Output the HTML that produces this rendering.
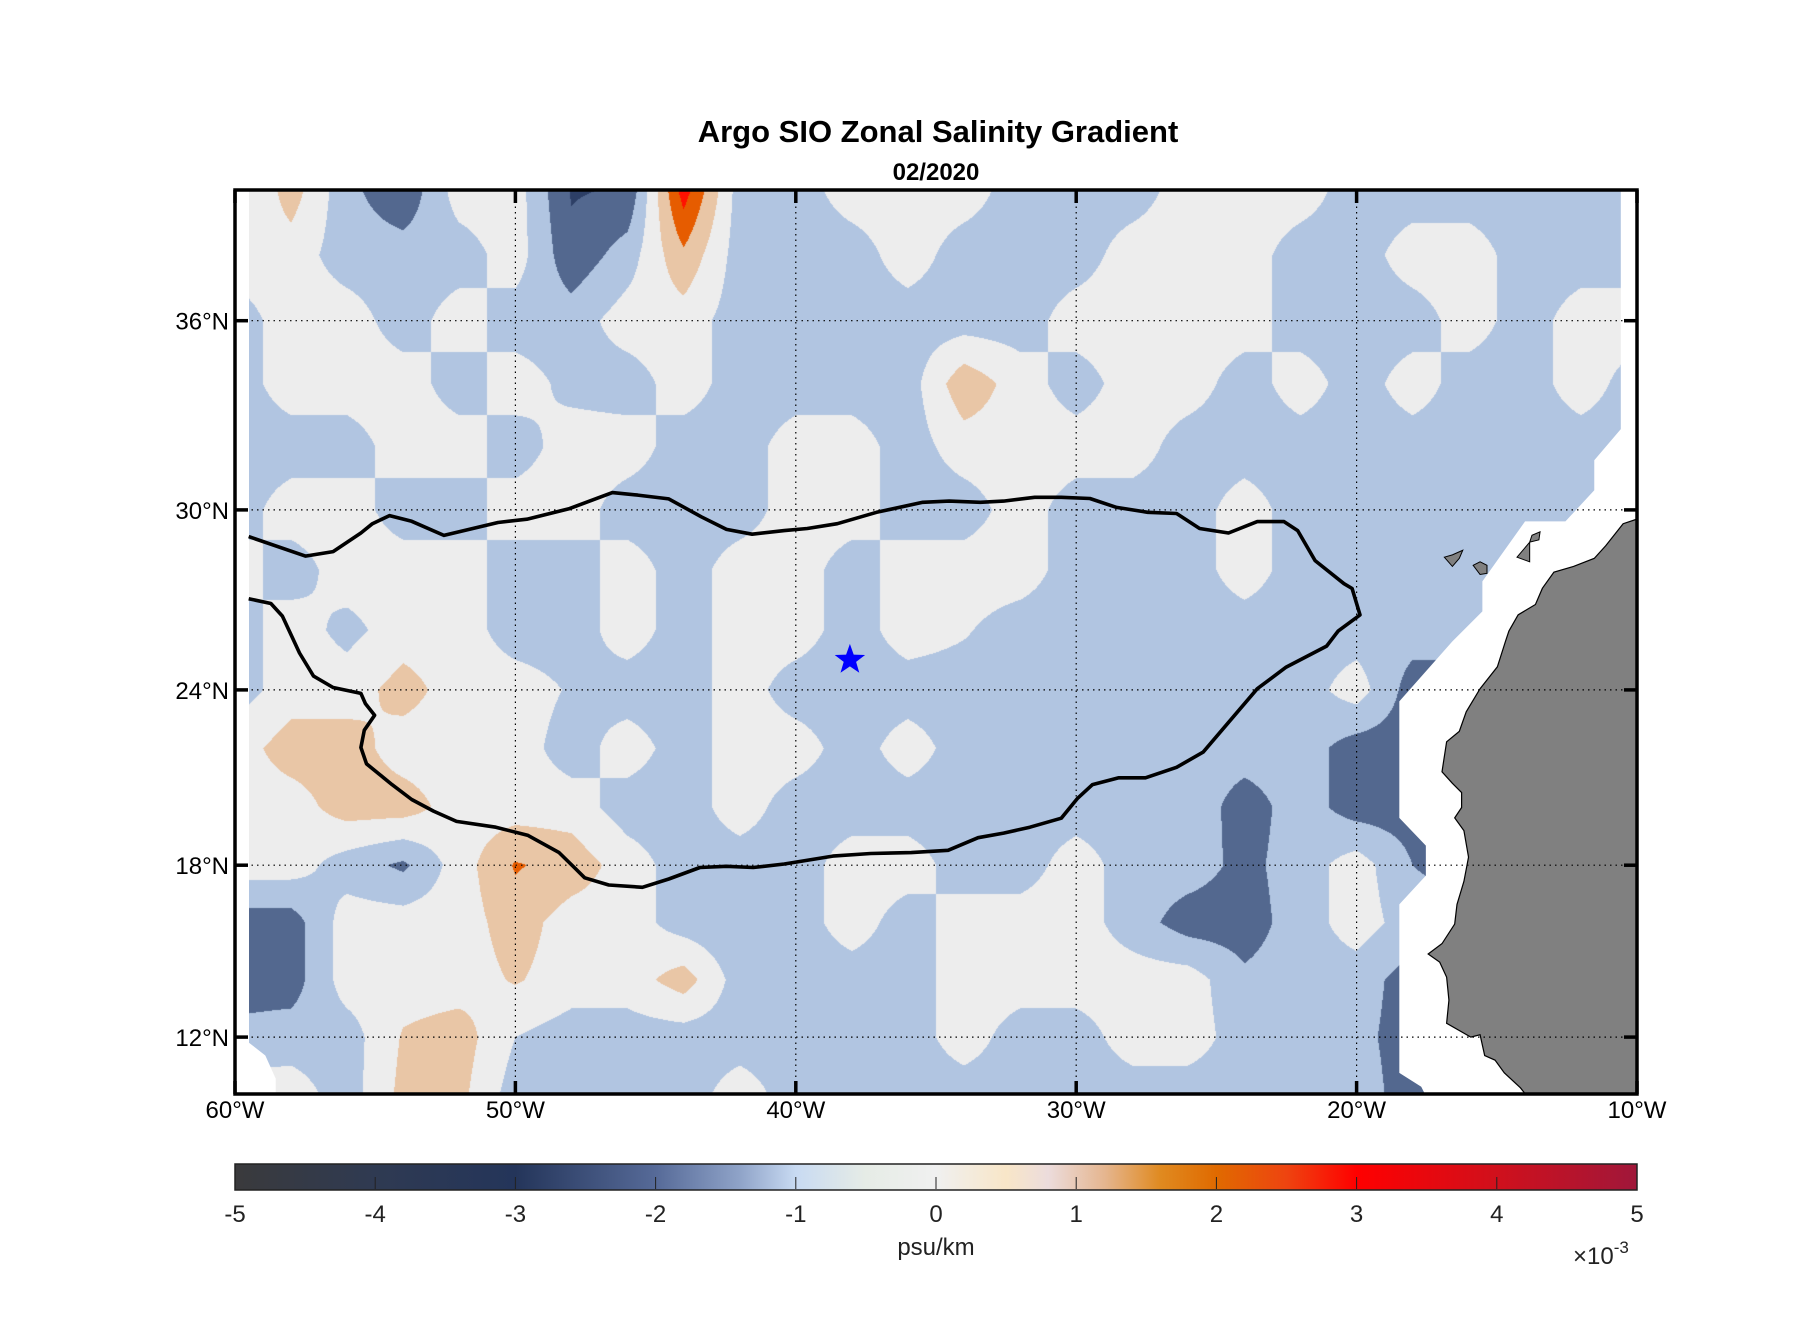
<!DOCTYPE html>
<html><head><meta charset="utf-8">
<style>
html,body{margin:0;padding:0;background:#fff;}
#wrap{position:relative;width:1808px;height:1333px;overflow:hidden;background:#fff;font-family:"Liberation Sans",sans-serif;}
#field{position:absolute;left:0;top:0;}
#ov{position:absolute;left:0;top:0;}
</style></head>
<body>
<div id="wrap">
<canvas id="field" width="1808" height="1333"></canvas>
<svg id="ov" width="1808" height="1333" xmlns="http://www.w3.org/2000/svg">
<defs><linearGradient id="cbg" x1="0" x2="1" y1="0" y2="0">
<stop offset="0" stop-color="#3a3a3c"/><stop offset="0.1" stop-color="#2f3a52"/><stop offset="0.2" stop-color="#24355a"/>
<stop offset="0.3" stop-color="#566a98"/><stop offset="0.36" stop-color="#8fa3c8"/><stop offset="0.4" stop-color="#c8daf2"/>
<stop offset="0.45" stop-color="#e6ece6"/><stop offset="0.5" stop-color="#f0f0f0"/><stop offset="0.55" stop-color="#f8e6c8"/>
<stop offset="0.58" stop-color="#ecdcdc"/><stop offset="0.62" stop-color="#e5b690"/><stop offset="0.66" stop-color="#e08a20"/>
<stop offset="0.7" stop-color="#e06a00"/><stop offset="0.75" stop-color="#ee4410"/><stop offset="0.8" stop-color="#ff0000"/>
<stop offset="0.9" stop-color="#d0101c"/><stop offset="1" stop-color="#a0173a"/></linearGradient></defs>
</svg>
</div>
<script>
// ---- data ----
const gridLons = [-60,-58,-56,-54,-52,-50,-48,-46,-44,-42,-40,-38,-36,-34,-32,-30,-28,-26,-24,-22,-20,-18,-16,-14,-12,-10];
const gridLats = [40,38,36,34,32,30,28,26,24,22,20,18,16,14,12,10];
const row40 = [-1,1.0,-1.2,-2.3,0,0,-2.6,-2.4,3,-1,-1,0,0,0,-1,-1,-1,0,0,0,-1,-1,-1,-1,-1,-1];
const row38 = [0,0,-1,-1,-1,0,-2.2,-1,1.3,-1,-1,-1,0,-1,-1,-1,0,0,0,-1,-1,0,0,-1,-1,-1];
const row36 = [-1,0,0,-1,0,-1,-1,0,0,-1,-1,-1,-1,-1,-1,0,0,0,0,-1,-1,-1,0,-1,0,0];
const row34 = [-1,0,0,0,-1,0,-0.8,-1,0,-1,-1,-1,-1,1.2,0,-1,0,0,-1,0,-1,0,-1,-1,0,-1];
const row32 = [-1,-1,-1,0,0,-1,0,0,-1,-1,0,0,-1,0,0,0,0,-1,-1,-1,-1,-1,-1,-1,-1,-1];
const row30 = [-1,0,0,-1,-1,0,0,-1,-1,-1,0,0,-1,-1,0,-1,-1,-1,0,-1,-1,-1,-1,-1,-1,-1];
const row28 = [0,-1,0,0,0,-1,-1,0,-1,0,0,-1,0,0,0,-1,-1,-1,0,-1,-1,-1,-1,-1,-1,-1];
const row26 = [-1,0,-0.8,0,0,-1,-1,0,-1,0,0,-1,0,-0.4,-1,-1,-1,-1,-1,-1,-1,-1,-1,-1,-1,-1];
const row24 = [-1,0,0,0.9,0,0,-0.6,-1,-1,0,-1,-1,-1,-1,-1,-1,-1,-1,-1,-1,0,-2,-2,-2,-2,-2];
const row22 = [0,1,1,0,0,0,-1,0,-1,0,0,-1,0,-1,-1,-1,-1,-1,-1,-1,-2,-2,-2,-2,-2,-2];
const row20 = [0,0,1,1,0,0,0,-1,-1,0,-1,-1,-1,-1,-1,-1,-1,-0.8,-2,-1,-2,-2,-2,-2,-2,-2];
const row18 = [0,0,-1,-1.7,0,1.6,1.1,0,-1,-1,-1,0,0,-1,-1,0,-1,-1,-1.8,-1,0,-1.5,-2,-2,-2,-2];
const row16 = [-2,-2,0,0,0,1,0,0,-1,-1.3,-1,0,-1,0,0,0,-1,-2,-2,-1,0,-1,-1,-1,-1,-1];
const row14 = [-2,-2,0,0,0,0.6,0,0,1,-1,-1,-1,-1,0,0,0,0,0,-1.3,-1,-1,-2,-2,-2,-2,-2];
const row12 = [-1.2,-1,-1,0.6,1,-0.5,-1,-1,-1,-1,-1,-1,-1,0,-1,-1,0,0,-1,-1,-1.2,-2,-2,-2,-2,-2];
const row10 = [0,0,-1,0.8,0.8,-1,-1,-1,-1,0,-1,-1,-1,-1,-1,-1,-1,-1,-1,-1,-1,-2,-2,-2,-2,-2];
const gridRows = [row40,row38,row36,row34,row32,row30,row28,row26,row24,row22,row20,row18,row16,row14,row12,row10];

const lineLon = [-59.51,-57.49,-56.50,-55.51,-55.10,-54.49,-53.70,-52.55,-50.62,-49.59,-48.07,-46.54,-45.64,-44.53,-43.37,-42.47,-41.56,-40.41,-39.59,-38.52,-37.12,-35.47,-34.53,-33.42,-32.59,-31.48,-30.53,-29.51,-28.56,-27.45,-26.42,-25.60,-24.57,-23.54,-22.59,-22.10,-21.48,-20.45,-20.16,-19.88,-20.66,-21.07,-22.51,-23.54,-25.47,-26.42,-27.53,-28.48,-29.42,-29.96,-30.53,-31.65,-32.59,-33.50,-34.57,-35.88,-37.33,-38.68,-40.41,-41.52,-42.47,-43.42,-44.53,-45.47,-46.67,-47.53,-47.90,-48.44,-49.55,-50.70,-52.10,-52.92,-53.70,-54.40,-55.31,-55.51,-55.39,-55.02,-55.35,-55.51,-56.50,-57.20,-57.70,-58.31,-58.72,-59.51];
const lineLat = [29.11,28.46,28.61,29.23,29.54,29.81,29.62,29.15,29.58,29.69,30.04,30.55,30.47,30.35,29.77,29.35,29.19,29.31,29.38,29.54,29.92,30.24,30.28,30.24,30.28,30.40,30.40,30.36,30.08,29.92,29.88,29.38,29.23,29.61,29.61,29.31,28.31,27.54,27.38,26.50,25.96,25.46,24.76,24.04,21.87,21.35,20.99,20.99,20.76,20.28,19.61,19.30,19.10,18.94,18.51,18.43,18.40,18.31,18.04,17.92,17.96,17.92,17.52,17.23,17.31,17.56,17.92,18.43,19.02,19.30,19.50,19.85,20.25,20.76,21.47,22.03,22.62,23.13,23.53,23.88,24.08,24.46,25.23,26.46,26.88,27.04];
const starLon = -38.07, starLat = 25.0;

const xTickVals = [-60,-50,-40,-30,-20,-10];
const xTickLabels = ["60°W","50°W","40°W","30°W","20°W","10°W"];
const yTickVals = [12,18,24,30,36];
const yTickLabels = ["12°N","18°N","24°N","30°N","36°N"];
const cbTicks = [-5,-4,-3,-2,-1,0,1,2,3,4,5];
const cbLabels = ["-5","-4","-3","-2","-1","0","1","2","3","4","5"];

// ---- geometry ----
const S=1.1536;
const L=235,R=1637,T=190,B=1094;
const knotLat=[40,36,30,24,18,12,10];
const knotY=[190,320.7,509.9,689.9,865.2,1037.1,1094];
function Y(lat){
  for(let i=0;i<knotLat.length-1;i++){
    if(lat>=knotLat[i+1]||i===knotLat.length-2){const f=(knotLat[i]-lat)/(knotLat[i]-knotLat[i+1]);return knotY[i]+f*(knotY[i+1]-knotY[i]);}
  }
}
function latOfY(y){
  for(let i=0;i<knotY.length-1;i++){
    if(y<=knotY[i+1]||i===knotY.length-2){const f=(y-knotY[i])/(knotY[i+1]-knotY[i]);return knotLat[i]+f*(knotLat[i+1]-knotLat[i]);}
  }
}
function X(lon){return L+(lon+60)*(R-L)/50;}
function lonOfX(x){return (x-L)*50/(R-L)-60;}
function disp(dx,dy){return [dx*S,dy*S];}

// ---- field raster ----
const cv=document.getElementById('field');
const ctx=cv.getContext('2d');
const img=ctx.createImageData(R-L,B-T);
function colorOf(v){
  if(v>=2.5) return [255,17,0];
  if(v>=1.5) return [230,92,0];
  if(v>=0.5) return [233,198,166];
  if(v>=-0.5) return [237,237,237];
  if(v>=-1.5) return [177,197,225];
  if(v>=-2.5) return [83,104,143];
  if(v>=-3.5) return [45,63,102];
  return [43,52,71];
}
const nR=gridLats.length,nC=gridLons.length;
for(let py=0;py<B-T;py++){
  const lat=latOfY(T+py+0.5);
  let gy=(40-lat)/2; gy=Math.max(0,Math.min(nR-1.0001,gy));
  const r0=Math.floor(gy),fy=gy-r0;
  for(let px=0;px<R-L;px++){
    const lon=lonOfX(L+px+0.5);
    let gx=(lon+60)/2; gx=Math.max(0,Math.min(nC-1.0001,gx));
    const c0=Math.floor(gx),fx=gx-c0;
    const v=(gridRows[r0][c0]*(1-fx)+gridRows[r0][c0+1]*fx)*(1-fy)+(gridRows[r0+1][c0]*(1-fx)+gridRows[r0+1][c0+1]*fx)*fy;
    const c=colorOf(v);const i=(py*(R-L)+px)*4;
    img.data[i]=c[0];img.data[i+1]=c[1];img.data[i+2]=c[2];img.data[i+3]=255;
  }
}
ctx.putImageData(img,L,T);

// ---- overlay ----
const svg=document.getElementById('ov');
const NS='http://www.w3.org/2000/svg';
function mk(tag,attrs,parent){const e=document.createElementNS(NS,tag);for(const k in attrs)e.setAttribute(k,attrs[k]);(parent||svg).appendChild(e);return e;}
function ptsDisp(arr){return arr.map(p=>disp(p[0],p[1]).join(',')).join(' ');}

let e;
e=mk('rect',{x:L,y:T,width:14,height:B-T,fill:'#fff'});


e=mk('polygon',{points:ptsDisp([[204,904],[216,904],[230,915],[239,935],[239,948],[204,948]]),fill:'#fff'});


e=mk('polygon',{points:ptsDisp([[1405,165],[1405,372],[1382,399],[1382,425],[1357,452],[1322,452],[1285,504],[1285,530],[1259,556],[1213,608],[1213,709],[1236,733],[1236,759],[1213,784],[1213,930],[1232,942],[1235,948],[1419,948],[1419,165]]),fill:'#fff'});


e=mk('polygon',{points:ptsDisp([[1419,450],[1407,454],[1392,473],[1382,484],[1364,491],[1347,496],[1337,510],[1331,524],[1316,533],[1308,547],[1305,556],[1298,578],[1283,597],[1271,617],[1265,634],[1254,643],[1250,669],[1259,679],[1267,687],[1267,700],[1261,709],[1269,720],[1273,743],[1269,764],[1263,784],[1261,801],[1250,818],[1238,827],[1248,834],[1254,847],[1256,867],[1254,887],[1275,899],[1283,897],[1287,915],[1296,919],[1304,930],[1318,943],[1322,948],[1419,948]]),fill:'#808080',stroke:'#000','stroke-width':1.2});


[[[1252,483],[1259,481],[1268,477],[1265,484],[1259,491]],[[1277,490],[1283,487],[1289,490],[1289,497],[1283,498]],[[1315,483],[1326,470],[1328,464],[1335,461],[1334,468],[1326,470],[1326,487]]].forEach(p=>{
  const isl=mk('polygon',{points:ptsDisp(p),fill:'#808080',stroke:'#000','stroke-width':1});
  
  
});

// gridlines
xTickVals.slice(1,-1).forEach(v=>{
  const g=mk('line',{x1:X(v),x2:X(v),y1:T,y2:B,stroke:'#000','stroke-width':1.2,'stroke-dasharray':'1.5 4'});
  
  
});
yTickVals.forEach(v=>{
  const g=mk('line',{x1:L,x2:R,y1:Y(v),y2:Y(v),stroke:'#000','stroke-width':1.2,'stroke-dasharray':'1.5 4'});
  
  
});

// contour line
let d='';
lineLon.forEach((lo,i)=>{d+=(i?'L':'M')+X(lo).toFixed(1)+','+Y(lineLat[i]).toFixed(1);});
e=mk('path',{d:d,fill:'none',stroke:'#000','stroke-width':3.6,'stroke-linejoin':'round'});



// star
(function(){
  const cx=X(starLon),cy=Y(starLat),ro=16,ri=6.5;let p=[];
  for(let k=0;k<10;k++){const a=-Math.PI/2+k*Math.PI/5;const r=k%2?ri:ro;p.push((cx+r*Math.cos(a)).toFixed(1)+','+(cy+r*Math.sin(a)).toFixed(1));}
  const s=mk('polygon',{points:p.join(' '),fill:'#0000ff'});
  
  
})();

// axes box
e=mk('rect',{x:L,y:T,width:R-L,height:B-T,fill:'none',stroke:'#000','stroke-width':3.5});



// ticks + labels
xTickVals.forEach((v,i)=>{
  const t1=mk('line',{x1:X(v),x2:X(v),y1:B,y2:B-13,stroke:'#000','stroke-width':3.5});
  
  
  const t2=mk('line',{x1:X(v),x2:X(v),y1:T,y2:T+13,stroke:'#000','stroke-width':3.5});
  
  
  const tx=mk('text',{x:X(v),y:1118,'text-anchor':'middle','font-size':24,fill:'#000'});
  tx.textContent=xTickLabels[i];
  
  
});
yTickVals.forEach((v,i)=>{
  const t1=mk('line',{x1:L,x2:L+13,y1:Y(v),y2:Y(v),stroke:'#000','stroke-width':3.5});
  
  
  const t2=mk('line',{x1:R,x2:R-13,y1:Y(v),y2:Y(v),stroke:'#000','stroke-width':3.5});
  
  
  const tx=mk('text',{x:L-6,y:Y(v)+9,'text-anchor':'end','font-size':24,fill:'#000'});
  tx.textContent=yTickLabels[i];
  
  
});

// titles
e=mk('text',{x:938,y:142,'text-anchor':'middle','font-size':31,'font-weight':'bold',fill:'#000'});
e.textContent='Argo SIO Zonal Salinity Gradient';


e=mk('text',{x:936,y:180,'text-anchor':'middle','font-size':24,'font-weight':'bold',fill:'#000'});
e.textContent='02/2020';



// colorbar
const CBT=1164,CBB=1190;
function CX(v){return L+(v+5)*(R-L)/10;}
e=mk('rect',{x:L,y:CBT,width:R-L,height:CBB-CBT,fill:'url(#cbg)',stroke:'#222','stroke-width':1.5});


cbTicks.forEach((v,i)=>{
  const t=mk('line',{x1:CX(v),x2:CX(v),y1:CBB-1,y2:CBB-13,stroke:'#222','stroke-width':1});
  
  
  const tx=mk('text',{x:CX(v),y:1222,'text-anchor':'middle','font-size':24,fill:'#222'});
  tx.textContent=cbLabels[i];
  
  
});
e=mk('text',{x:936,y:1255,'text-anchor':'middle','font-size':24,fill:'#222'});
e.textContent='psu/km';


e=mk('text',{x:1573,y:1264,'font-size':24,fill:'#222'});
e.innerHTML='×10<tspan dy="-11" font-size="17">-3</tspan>';


</script>
</body></html>
